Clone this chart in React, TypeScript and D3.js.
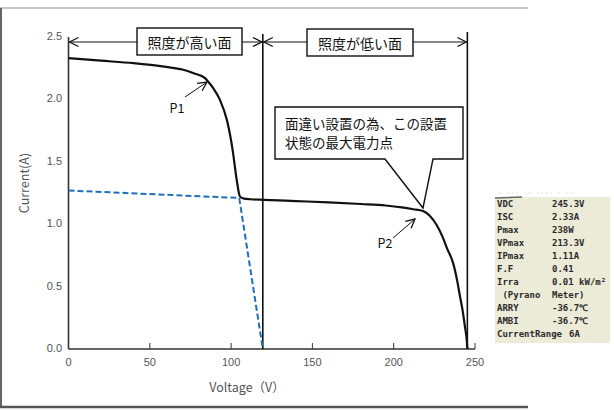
import * as d3 from "d3";

// I-V curve (voltage V, current A)
const voltage = [0, 10, 20, 40, 60, 70, 77, 84, 86, 89, 93, 97.5, 101, 103.5, 105.5, 108, 112, 120, 140, 160, 180, 195, 205, 212, 218, 222, 226.6, 230, 233, 236.5, 239, 240.8, 242.5, 243.8, 245, 245.3];
const current = [2.33, 2.32, 2.31, 2.29, 2.26, 2.24, 2.21, 2.17, 2.14, 2.09, 2.0, 1.83, 1.59, 1.35, 1.22, 1.205, 1.2, 1.195, 1.185, 1.175, 1.162, 1.15, 1.135, 1.12, 1.105, 1.07, 0.99, 0.9, 0.8, 0.69, 0.55, 0.42, 0.3, 0.18, 0.06, 0];

// expected curve of the low-irradiance half (blue dashed)
const blueVoltage = [0, 105, 119.5];
const blueCurrent = [1.27, 1.21, 0];

const xTicks = [0, 50, 100, 150, 200, 250];
const yTicks = [0, 0.5, 1.0, 1.5, 2.0, 2.5];

const splitV = 119.5;
const vocV = 245.3;

const infoLabels = ["VDC", "ISC", "Pmax", "VPmax", "IPmax", "F.F", "Irra", " (Pyrano", "ARRY", "AMBI", "CurrentRange"];
const infoValues = ["245.3V", "2.33A", "238W", "213.3V", "1.11A", "0.41", "0.01 kW/m²", "Meter)", "-36.7℃", "-36.7℃", "6A"];

const JP = "'Noto Sans CJK JP', sans-serif";
const MONO = "'DejaVu Sans Mono', monospace";

export default function App() {
  const x = d3.scaleLinear().domain([0, 250]).range([68.5, 475]);
  const y = d3.scaleLinear().domain([0, 2.5]).range([349, 37]);

  const line = d3.line<[number, number]>()
    .x(d => x(d[0]))
    .y(d => y(d[1]))
    .curve(d3.curveMonotoneX);

  const ivPath = line(voltage.map((v, i) => [v, current[i]] as [number, number])) || "";
  const bluePath = d3.line<[number, number]>()
    .x(d => x(d[0]))
    .y(d => y(d[1]))(blueVoltage.map((v, i) => [v, blueCurrent[i]] as [number, number])) || "";

  const arrowY = 42;

  return (
    <div style={{ position: "absolute", left: 0, top: 0 }}>
      <svg width={614} height={410} style={{ display: "block", background: "#fff" }}>
        <defs>
          <marker id="open" markerUnits="userSpaceOnUse" markerWidth={12} markerHeight={12}
            viewBox="0 0 12 12" refX={10} refY={6} orient="auto-start-reverse">
            <path d="M1,1.5 L10,6 L1,10.5" fill="none" stroke="#111" strokeWidth={1.3} />
          </marker>
        </defs>

        {/* outer frame */}
        <line x1={0} x2={528} y1={8} y2={8} stroke="#c4c4c4" strokeWidth={2} />
        <line x1={1} x2={1} y1={8} y2={407} stroke="#666" strokeWidth={2} />
        <line x1={0} x2={528} y1={407} y2={407} stroke="#555" strokeWidth={2.5} />

        {/* axes */}
        <line x1={x(0)} x2={x(0)} y1={y(0)} y2={y(2.5)} stroke="#333" strokeWidth={1.6} />
        <line x1={x(0)} x2={x(250)} y1={y(0)} y2={y(0)} stroke="#333" strokeWidth={1.6} />
        {xTicks.slice(1).map(t => (
          <line key={t} x1={x(t)} x2={x(t)} y1={y(0)} y2={y(0) - 6} stroke="#333" strokeWidth={1} />
        ))}
        {xTicks.map(t => (
          <text key={t} x={x(t)} y={363} textAnchor="middle" dominantBaseline="middle"
            fontFamily="'Liberation Sans', Arial, sans-serif" fontSize={11} fill="#555">{t}</text>
        ))}
        {yTicks.map(t => (
          <text key={t} x={62} y={y(t)} textAnchor="end" dominantBaseline="middle"
            fontFamily="'Liberation Sans', Arial, sans-serif" fontSize={11} fill="#555">{t.toFixed(1)}</text>
        ))}
        <text x={247} y={389} textAnchor="middle" dominantBaseline="middle"
          fontFamily={JP} fontSize={12.5} fill="#555">Voltage（V）</text>
        <text transform="translate(26,183) rotate(-90)" textAnchor="middle" dominantBaseline="middle"
          fontFamily={JP} fontSize={12.5} fill="#555">Current(A)</text>

        {/* boundary lines */}
        <line x1={x(splitV)} x2={x(splitV)} y1={34} y2={y(0)} stroke="#111" strokeWidth={1.6} />
        <line x1={x(vocV)} x2={x(vocV)} y1={32} y2={y(0)} stroke="#111" strokeWidth={1.6} />

        {/* dimension arrows */}
        <line x1={x(0) + 1} x2={x(splitV) - 1} y1={arrowY} y2={arrowY} stroke="#111" strokeWidth={1}
          markerStart="url(#open)" markerEnd="url(#open)" />
        <line x1={x(splitV) + 1} x2={x(vocV) - 1} y1={arrowY} y2={arrowY} stroke="#111" strokeWidth={1}
          markerStart="url(#open)" markerEnd="url(#open)" />
        <rect x={137} y={28} width={105} height={27} fill="#fff" stroke="#111" strokeWidth={1.4} />
        <text x={189.5} y={42} textAnchor="middle" dominantBaseline="central" fontFamily={JP} fontSize={14} fill="#111">照度が高い面</text>
        <rect x={307} y={29} width={106} height={27} fill="#fff" stroke="#111" strokeWidth={1.4} />
        <text x={360} y={43} textAnchor="middle" dominantBaseline="central" fontFamily={JP} fontSize={14} fill="#111">照度が低い面</text>

        {/* curves */}
        <path d={bluePath} fill="none" stroke="#1f6fbd" strokeWidth={2} strokeDasharray="6,3" />
        <path d={ivPath} fill="none" stroke="#111" strokeWidth={2.2} strokeLinejoin="round" />

        {/* P1 / P2 */}
        <line x1={185} y1={97} x2={207} y2={82} stroke="#111" strokeWidth={1} markerEnd="url(#open)" />
        <text x={177} y={110} textAnchor="middle" dominantBaseline="middle" fontFamily={JP} fontSize={12.5} fill="#111">P1</text>
        <line x1={393} y1={238} x2={415} y2={219} stroke="#111" strokeWidth={1} markerEnd="url(#open)" />
        <text x={385} y={245} textAnchor="middle" dominantBaseline="middle" fontFamily={JP} fontSize={12.5} fill="#111">P2</text>

        {/* callout */}
        <path d="M275,107 H463 V159 H433 L423,208 L385,159 H275 Z" fill="#fff" stroke="#111" strokeWidth={1.4} strokeLinejoin="miter" />
        <text x={285} y={123} dominantBaseline="central" fontFamily={JP} fontSize={13.5} fill="#111">面違い設置の為、この設置</text>
        <text x={285} y={142} dominantBaseline="central" fontFamily={JP} fontSize={13.5} fill="#111">状態の最大電力点</text>

        {/* measurement panel */}
        <text x={498} y={193} dominantBaseline="middle" fontFamily={MONO} fontSize={7} fill="#c8c8c8">-  ---  --  ----  -  --</text>
        <rect x={495} y={197} width={115} height={146} fill="#ecebd8" />
        <line x1={495} x2={522} y1={198} y2={197} stroke="#666" strokeWidth={1.5} />
        {infoLabels.map((lab, i) => (
          <g key={lab}>
            <text x={497} y={204 + i * 13} dominantBaseline="middle" fontFamily={MONO}
              fontWeight="bold" fontSize={9} fill="#2a2a2a" style={{ whiteSpace: "pre" }}>{lab}</text>
            <text x={lab === "CurrentRange" ? 569 : 552} y={204 + i * 13} dominantBaseline="middle"
              fontFamily={MONO} fontWeight="bold" fontSize={9} fill="#2a2a2a">{infoValues[i]}</text>
          </g>
        ))}
      </svg>
    </div>
  );
}
